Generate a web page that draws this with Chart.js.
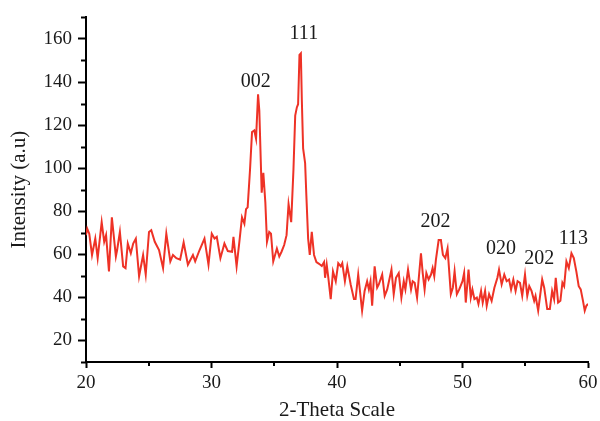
<!DOCTYPE html>
<html>
<head>
<meta charset="utf-8">
<script src="https://cdn.jsdelivr.net/npm/chart.js@4.4.0/dist/chart.umd.min.js"></script>
<style>
  html, body { margin: 0; padding: 0; background: #fff; }
  #wrap { width: 600px; height: 421px; }
</style>
</head>
<body>
<div id="wrap"><canvas id="xrd"></canvas></div>
<script>
// 2-theta positions (deg) and intensity
const twoTheta = [
  20.0, 20.1, 20.26, 20.48, 20.74, 20.93, 21.25, 21.45, 21.6, 21.83, 22.06, 22.38, 22.48, 22.7, 22.96,
  23.15, 23.33, 23.57, 23.76, 23.97, 24.23, 24.55, 24.76, 25.02, 25.2, 25.48, 25.82, 26.14, 26.4, 26.72,
  26.93, 27.2, 27.5, 27.78, 28.12, 28.52, 28.7, 29.05, 29.44, 29.76, 30.02, 30.24, 30.42, 30.71, 31.03,
  31.3, 31.64, 31.75, 32.0, 32.22, 32.43, 32.62, 32.75, 32.88, 33.07, 33.23, 33.41, 33.55, 33.71, 33.81,
  34.0, 34.13, 34.29, 34.42, 34.6, 34.74, 34.92, 35.21, 35.4, 35.58, 35.79, 35.98, 36.14, 36.35, 36.53,
  36.67, 36.8, 36.9, 37.01, 37.12, 37.2, 37.3, 37.46, 37.56, 37.7, 37.83, 37.99, 38.17, 38.36, 38.57,
  38.79, 38.97, 39.05, 39.18, 39.31, 39.5, 39.68, 39.9, 40.1, 40.3, 40.42, 40.63, 40.82, 41.09, 41.35,
  41.48, 41.69, 42.0, 42.2, 42.4, 42.54, 42.67, 42.8, 43.0, 43.2, 43.33, 43.6, 43.8, 44.0, 44.34,
  44.52, 44.7, 44.92, 45.13, 45.32, 45.45, 45.66, 45.9, 46.03, 46.19, 46.38, 46.69, 46.83, 46.98, 47.12,
  47.3, 47.49, 47.62, 47.75, 47.88, 48.1, 48.28, 48.44, 48.63, 48.81, 49.07, 49.23, 49.37, 49.55, 49.74,
  50.0, 50.13, 50.26, 50.48, 50.66, 50.79, 50.95, 51.14, 51.27, 51.48, 51.61, 51.8, 51.93, 52.12, 52.32,
  52.54, 52.78, 52.91, 53.12, 53.33, 53.52, 53.71, 53.87, 54.05, 54.23, 54.39, 54.58, 54.76, 54.98, 55.16,
  55.32, 55.5, 55.71, 55.82, 56.03, 56.35, 56.51, 56.75, 56.96, 57.14, 57.3, 57.43, 57.62, 57.8, 57.96,
  58.1, 58.28, 58.47, 58.68, 58.87, 59.07, 59.26, 59.42, 59.6, 59.74, 59.87, 60.0
];
const intensity = [
  68.9, 71.9, 69.6, 59.7, 67.3, 58.2, 74.9, 65.8, 68.9, 52.1, 77.2, 59.0, 62.0, 70.4, 54.4,
  53.6, 65.0, 60.5, 65.0, 67.3, 49.8, 59.7, 50.6, 70.4, 71.2, 65.8, 62.0, 53.6, 69.6, 56.7,
  59.7, 58.2, 57.5, 65.5, 55.2, 59.7, 56.7, 62.0, 67.3, 55.2, 69.6, 67.3, 68.1, 58.2, 65.0,
  61.5, 61.2, 68.1, 54.4, 65.8, 77.2, 74.2, 81.0, 81.8, 99.3, 116.8, 117.5, 113.7, 134.3, 126.7,
  88.6, 97.8, 84.1, 65.8, 70.4, 69.6, 56.7, 62.7, 59.0, 61.2, 64.3, 68.9, 83.3, 74.9, 99.3,
  124.4, 128.2, 129.7, 152.6, 153.3, 131.2, 109.2, 102.3, 87.1, 67.3, 59.7, 70.4, 59.7, 56.4, 55.6,
  54.6, 56.4, 49.1, 55.2, 49.1, 39.2, 52.1, 47.5, 55.9, 54.4, 55.9, 47.5, 54.4, 46.0, 39.2,
  39.2, 50.6, 33.8, 43.0, 47.5, 43.7, 47.5, 36.1, 54.4, 44.5, 46.0, 50.6, 40.7, 43.7, 52.9,
  41.5, 49.1, 51.3, 39.9, 47.5, 43.7, 52.9, 43.7, 47.5, 46.8, 39.9, 60.5, 51.3, 43.7, 51.3,
  48.3, 50.6, 53.6, 49.8, 57.4, 66.6, 66.6, 59.7, 58.2, 62.7, 41.5, 44.5, 52.1, 41.5, 43.7,
  47.5, 51.3, 37.6, 52.9, 39.9, 43.7, 39.2, 39.9, 36.9, 43.0, 37.6, 43.0, 36.1, 41.5, 38.4,
  44.5, 49.1, 52.9, 46.0, 50.6, 47.5, 48.3, 43.7, 48.3, 43.0, 47.5, 46.8, 40.7, 50.6, 40.7,
  45.2, 43.0, 38.4, 40.7, 33.8, 48.3, 44.5, 34.6, 34.6, 43.0, 39.2, 49.1, 37.6, 38.4, 46.8,
  45.2, 56.7, 53.6, 60.5, 58.2, 52.1, 45.2, 43.7, 38.4, 33.8, 36.1, 37.0
];

// reflection labels, anchored in data units (2-theta, intensity)
const peakNames = ['002', '111', '202', '020', '202', '113'];
const peakAt = [33.53, 37.36, 47.84, 53.07, 56.12, 58.83];
const peakLevel = [140.2, 162.6, 74.9, 62.7, 57.9, 67.3];

const xTicks = [20, 30, 40, 50, 60];
const yTicks = [20, 40, 60, 80, 100, 120, 140, 160];
const xMinor = [25, 35, 45, 55];
const yMinor = [10, 30, 50, 70, 90, 110, 130, 150, 170];

const serif = '"Liberation Serif", "DejaVu Serif", serif';
const ink = '#1a1a1a';

const points = twoTheta.map((t, i) => ({ x: t, y: intensity[i] }));

// draws hkl labels and the short minor ticks
const extras = {
    id: 'extras',
    afterDraw(chart) {
        const ctx = chart.ctx;
        const xs = chart.scales.x;
        const ys = chart.scales.y;
        ctx.save();
        ctx.strokeStyle = '#000';
        ctx.lineWidth = 2;
        yMinor.forEach(v => {
            const py = Math.round(ys.getPixelForValue(v)) + 0.5;
            ctx.beginPath();
            ctx.moveTo(ys.right - 5, py);
            ctx.lineTo(ys.right, py);
            ctx.stroke();
        });
        xMinor.forEach(v => {
            const px = Math.round(xs.getPixelForValue(v));
            ctx.beginPath();
            ctx.moveTo(px, xs.top);
            ctx.lineTo(px, xs.top + 4);
            ctx.stroke();
        });
        ctx.fillStyle = ink;
        ctx.font = '20px ' + serif;
        ctx.textAlign = 'center';
        ctx.textBaseline = 'middle';
        peakNames.forEach((name, i) => {
            ctx.fillText(name, xs.getPixelForValue(peakAt[i]), ys.getPixelForValue(peakLevel[i]));
        });
        ctx.restore();
    }
};

new Chart(document.getElementById('xrd'), {
    type: 'line',
    data: {
        datasets: [{
            data: points,
            borderColor: '#ee3226',
            borderWidth: 2,
            pointRadius: 0,
            tension: 0,
            fill: false
        }]
    },
    options: {
        responsive: true,
        maintainAspectRatio: false,
        animation: false,
        layout: { padding: { top: 13, right: 12, left: 0, bottom: 0 } },
        plugins: {
            legend: { display: false },
            tooltip: { enabled: false }
        },
        scales: {
            x: {
                type: 'linear',
                min: 20,
                max: 60,
                afterBuildTicks: (scale) => { scale.ticks = xTicks.map(v => ({ value: v })); },
                afterFit: (scale) => { scale.height = 59; scale.paddingRight = 0; scale.paddingLeft = 0; },
                border: { display: true, color: '#000', width: 2 },
                grid: { drawOnChartArea: false, drawTicks: true, tickLength: 6, tickColor: '#000', tickWidth: 2 },
                ticks: { color: ink, padding: 4, maxRotation: 0, font: { family: serif, size: 19 } },
                title: {
                    display: true,
                    text: '2-Theta Scale',
                    color: ink,
                    padding: { top: 0, bottom: 0 },
                    font: { family: serif, size: 21, lineHeight: 1 }
                }
            },
            y: {
                type: 'linear',
                min: 10,
                max: 170,
                afterBuildTicks: (scale) => { scale.ticks = yTicks.map(v => ({ value: v })); },
                afterFit: (scale) => { scale.width = 86; },
                border: { display: true, color: '#000', width: 2 },
                grid: { drawOnChartArea: false, drawTicks: true, tickLength: 8, tickColor: '#000', tickWidth: 2 },
                ticks: { color: ink, padding: 6, font: { family: serif, size: 19 } },
                title: {
                    display: true,
                    text: 'Intensity (a.u)',
                    color: ink,
                    padding: { top: 9, bottom: 0 },
                    font: { family: serif, size: 21, lineHeight: 1 }
                }
            }
        }
    },
    plugins: [extras]
});
</script>
</body>
</html>
